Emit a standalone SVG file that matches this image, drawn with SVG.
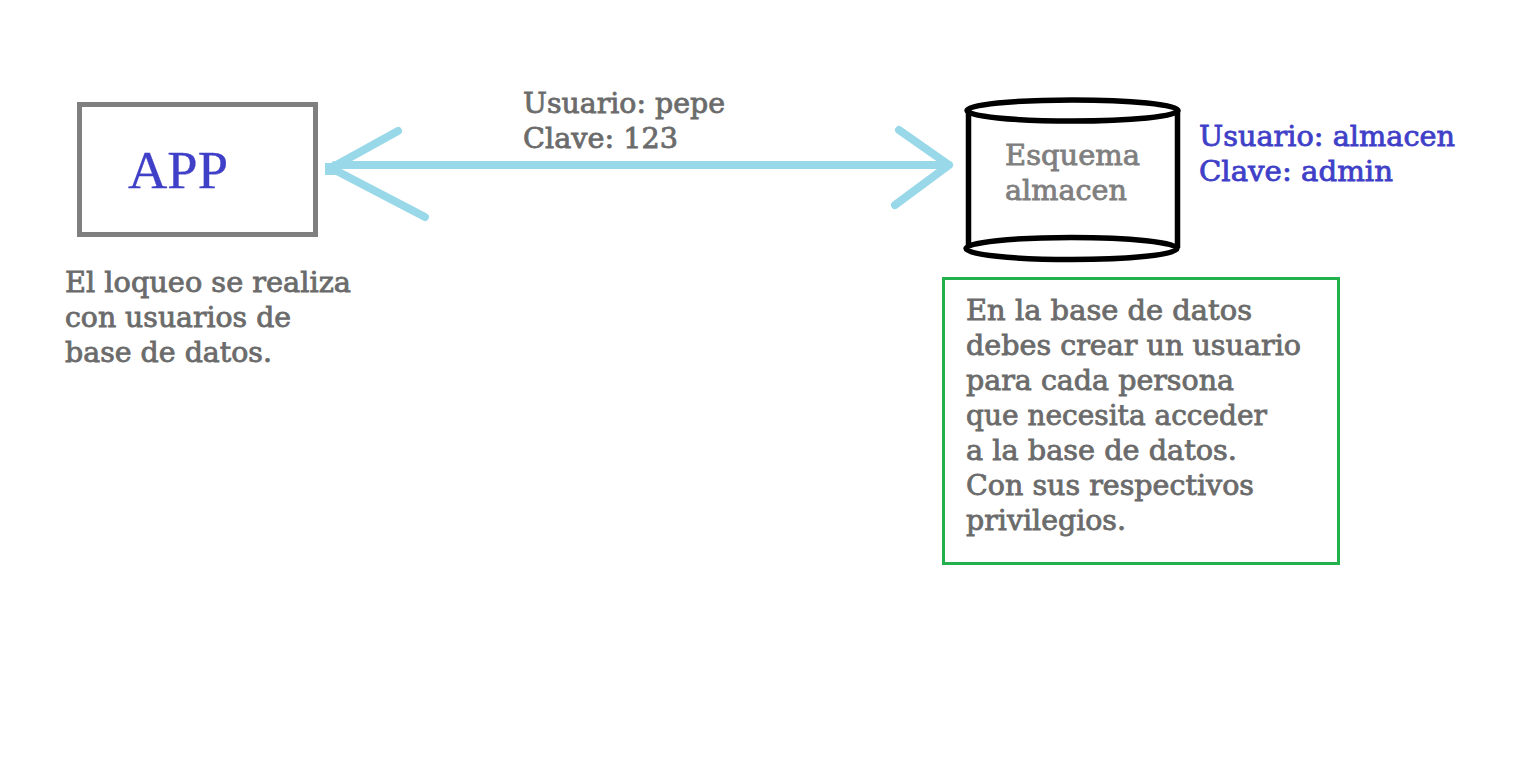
<svg xmlns="http://www.w3.org/2000/svg" width="1535" height="762" viewBox="0 0 1535 762">
<style>
text{font-family:"DejaVu Serif","Liberation Serif",serif;font-size:27px;font-weight:400;fill:#6b6b6b;stroke:#6b6b6b;stroke-width:.8}
.b{fill:#3f3fc8;stroke:#3f3fc8}
.g{fill:#7f7f7f;stroke:#7f7f7f}
.a{fill:none;stroke:#98d8e8;stroke-width:8;stroke-linecap:round;stroke-linejoin:round}
.c{fill:none;stroke:#000;stroke-width:5.500}
</style>
<rect width="1535" height="762" fill="#fff"/>
<g id="app"><rect x="79.500" y="104.500" width="236" height="130" fill="#fff" stroke="#7f7f7f" stroke-width="5"/>
<text class="b" x="128" y="188" style="font-size:53px;font-family:'Liberation Serif',serif;stroke-width:.3" textLength="100" lengthAdjust="spacingAndGlyphs">APP</text></g>
<g id="connectors"><path class="a" d="M335 165H949M398 131L331 168L425 217M899 130L949 165L895 205"/><rect x="325" y="163" width="10" height="12" fill="#98d8e8"/></g>
<g id="esquema"><path d="M968.500 110V248M1177.500 110V248" class="c"/>
<ellipse class="c" cx="1072.500" cy="110.500" rx="105.500" ry="10.500"/>
<ellipse class="c" cx="1071.500" cy="248.500" rx="105.500" ry="11"/>
<text class="g" x="1005" y="165" textLength="135" lengthAdjust="spacingAndGlyphs">Esquema</text>
<text class="g" x="1005" y="200" textLength="122" lengthAdjust="spacingAndGlyphs">almacen</text></g>
<g id="label-pepe"><text x="523" y="113" textLength="202" lengthAdjust="spacingAndGlyphs">Usuario: pepe</text>
<text x="523" y="148" textLength="155" lengthAdjust="spacingAndGlyphs">Clave: 123</text></g>
<g id="label-almacen"><text class="b" x="1199" y="146" textLength="256" lengthAdjust="spacingAndGlyphs">Usuario: almacen</text>
<text class="b" x="1199" y="181" textLength="194" lengthAdjust="spacingAndGlyphs">Clave: admin</text></g>
<g id="nota-app"><text x="65" y="292" textLength="286" lengthAdjust="spacingAndGlyphs">El loqueo se realiza</text>
<text x="65" y="327" textLength="226" lengthAdjust="spacingAndGlyphs">con usuarios de</text>
<text x="65" y="362" textLength="207" lengthAdjust="spacingAndGlyphs">base de datos.</text></g>
<g id="nota-bd"><rect x="943.500" y="278.500" width="395" height="285" fill="none" stroke="#22b14c" stroke-width="3"/>
<text x="966" y="320" textLength="286" lengthAdjust="spacingAndGlyphs">En la base de datos</text>
<text x="966" y="355" textLength="335" lengthAdjust="spacingAndGlyphs">debes crear un usuario</text>
<text x="966" y="390" textLength="268" lengthAdjust="spacingAndGlyphs">para cada persona</text>
<text x="966" y="425" textLength="301" lengthAdjust="spacingAndGlyphs">que necesita acceder</text>
<text x="966" y="460" textLength="271" lengthAdjust="spacingAndGlyphs">a la base de datos.</text>
<text x="966" y="495" textLength="288" lengthAdjust="spacingAndGlyphs">Con sus respectivos</text>
<text x="966" y="530" textLength="160" lengthAdjust="spacingAndGlyphs">privilegios.</text></g>
</svg>
